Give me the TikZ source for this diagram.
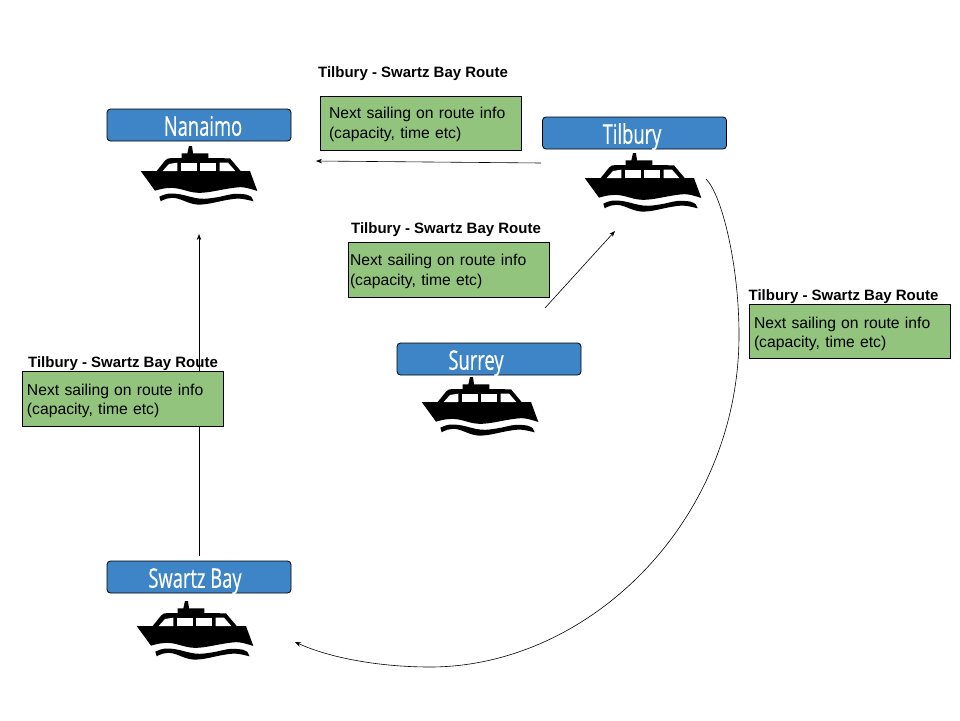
\documentclass[tikz,border=0pt]{standalone}
\usepackage{fontspec}
\usepackage{xcolor}
\usepackage{tikz}
\usetikzlibrary{positioning, arrows.meta}
\setmainfont{Liberation Sans}
\newfontfamily\cityfont[FakeStretch=0.68, FakeBold=0.4]{Open Sans}
\definecolor{portblue}{HTML}{3D85C6}
\definecolor{infogreen}{HTML}{93C47D}
\newcommand{\infotext}[1]{\rule{0pt}{#1}Next sailing on route info\\(capacity, time etc)}

\tikzset{
  ferry/.pic={
    \begin{scope}[x=0.3333pt, y=-0.3333pt, shift={(-297,-225)}]
      \fill[black] (122,213) -- (170,213) -- (195,182) .. controls (200,176) and (205,174) .. (215,174) -- (245,174) -- (245,160) -- (262,160) -- (267,138) -- (276,138) -- (279,160) -- (325,160) -- (325,174) -- (390,175) -- (422,213) -- (450,213)
        -- plot[smooth, tension=0.6] coordinates {(472,273) (430,262) (390,265) (320,277) (280,277) (230,265) (195,265) (165,272)} -- cycle;
      \fill[black] plot[smooth, tension=0.6] coordinates {(178,290) (205,281) (240,283) (300,296) (350,292) (400,282) (440,284) (455,292)}
        -- plot[smooth, tension=0.6] coordinates {(461,304) (420,296) (380,300) (320,312) (280,312) (230,295) (200,296) (182,304)} -- cycle;
      \fill[white] (188,213) -- (207,192) -- (232,188) -- (232,213) -- cycle;
      \fill[white] (243,188) rectangle (290,213);
      \fill[white] (300,188) rectangle (348,213);
      \fill[white] (359,188) -- (384,188) -- (406,213) -- (359,213) -- cycle;
    \end{scope}
  }
}

\begin{document}
\begin{tikzpicture}[x=1pt, y=-1pt,
    port/.style={draw=black, line width=0.8pt, fill=portblue, rounded corners=3.5pt, minimum width=184pt, minimum height=32pt, inner sep=0pt, text=white, text height=24pt, text depth=2.5pt, font=\cityfont\fontsize{27}{30}\selectfont},
    info/.style={draw=black, line width=0.8pt, fill=infogreen, minimum width=201pt, minimum height=54.5pt, inner sep=0pt, align=left, font=\fontsize{15.7}{19.5}\selectfont},
    route/.style={inner sep=0pt, font=\bfseries\fontsize{15}{17}\selectfont},
    link/.style={-{Stealth[length=6pt, width=4.5pt]}, line width=0.6pt}]
  \useasboundingbox (0,0) rectangle (960,720);

  % Arrow ends
  \coordinate (tilburyout) at (541,163);
  \coordinate (nanaimoin) at (316,161);
  \coordinate (surreyout) at (545,308);
  \coordinate (tilburyin) at (615,231);
  \coordinate (swartzout) at (199,556);
  \coordinate (nanaimoback) at (199,234);
  \coordinate (tilburyround) at (706,179);
  \coordinate (swartzin) at (295,642);

  % Arrows
  \draw[link] (tilburyout) -- (nanaimoin);
  \draw[link] (surreyout) -- (tilburyin);
  \draw[link] (swartzout) -- (nanaimoback);
  \draw[link] (tilburyround) .. controls (722,195) and (739,265) .. (739,335) .. controls (739,520) and (590,667) .. (430,667) .. controls (380,667) and (330,658) .. (swartzin);

  % Ports
  \node[port] (nanaimo) at (199,125) {\hspace{8pt}Nanaimo};
  \node[port] (tilbury) at (634.5,133) {\hspace{-5pt}Tilbury};
  \node[port] (surrey) at (489,359) {\hspace{-26pt}Surrey};
  \node[port] (swartz) at (199,577) {\hspace{-8pt}Swartz Bay};

  % Ferries
  \pic at (199,175) {ferry};
  \pic at (643,182) {ferry};
  \pic at (480,406) {ferry};
  \pic at (195,630) {ferry};

  % Route boxes
  \node[info, text width=183pt] (infotop) at (420.5,123.5) {\infotext{13.5pt}};
  \node[route] (routetop) at (413,73.5) {Tilbury - Swartz Bay Route};
  \node[info, text width=198pt] (infomid) at (449,270) {\infotext{14.5pt}};
  \node[route] (routemid) at (446,229.5) {Tilbury - Swartz Bay Route};
  \node[info, text width=192pt] (inforight) at (850,331.5) {\infotext{16.5pt}};
  \node[route] (routeright) at (843.5,296.5) {Tilbury - Swartz Bay Route};
  \node[info, text width=192pt] (infoleft) at (123,399) {\infotext{15.5pt}};
  \node[route] (routeleft) at (123,363.5) {Tilbury - Swartz Bay Route};
\end{tikzpicture}
\end{document}
